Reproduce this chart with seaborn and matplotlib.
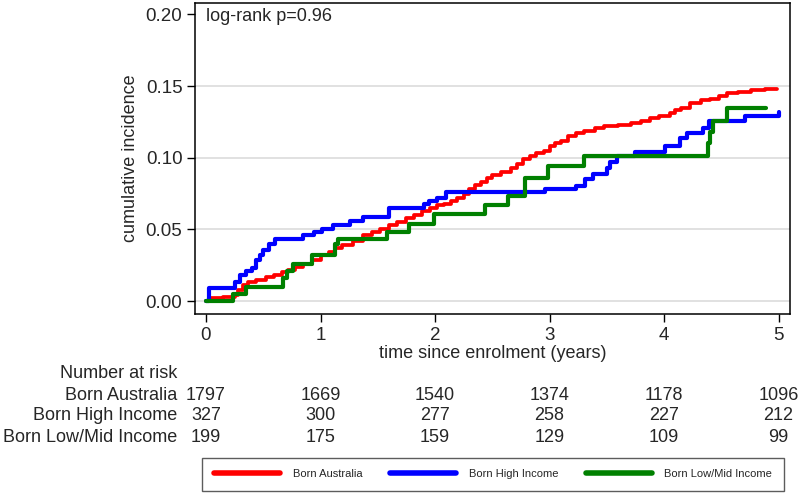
import matplotlib
matplotlib.use("Agg")
import matplotlib.pyplot as plt
import matplotlib.transforms as mtransforms
from matplotlib.lines import Line2D
import seaborn as sns
import pandas as pd

sns.set_theme(style="ticks")
plt.rcParams['font.family'] = ['Liberation Sans', 'DejaVu Sans']

# curves (time in years, cumulative incidence)
groups = ["Born Australia", "Born High Income", "Born Low/Mid Income"]
colors = ["#FF0000", "#0000FF", "#008000"]

aus_t = [0, 0.04, 0.15, 0.25, 0.28, 0.32, 0.37, 0.44, 0.52, 0.59, 0.66, 0.72, 0.78, 0.85,
         0.93, 1.00, 1.07, 1.13, 1.19, 1.28, 1.37, 1.45, 1.52, 1.60, 1.67, 1.75, 1.82, 1.89,
         1.96, 2.02, 2.08, 2.14, 2.19, 2.25, 2.30, 2.35, 2.40, 2.45, 2.50, 2.58, 2.66, 2.72,
         2.77, 2.83, 2.88, 2.95, 3.00, 3.05, 3.10, 3.16, 3.23, 3.30, 3.40, 3.48, 3.60, 3.71,
         3.80, 3.88, 3.96, 4.05, 4.10, 4.15, 4.23, 4.32, 4.40, 4.48, 4.55, 4.65, 4.76, 4.88,
         4.99]
aus_y = [0, 0.002, 0.003, 0.004, 0.008, 0.011, 0.013, 0.015, 0.017, 0.018, 0.020, 0.022,
         0.024, 0.026, 0.029, 0.032, 0.034, 0.037, 0.039, 0.042, 0.046, 0.048, 0.050, 0.053,
         0.055, 0.058, 0.060, 0.063, 0.065, 0.067, 0.068, 0.070, 0.072, 0.075, 0.078, 0.081,
         0.083, 0.086, 0.088, 0.090, 0.093, 0.096, 0.099, 0.101, 0.103, 0.105, 0.108, 0.110,
         0.112, 0.115, 0.117, 0.119, 0.121, 0.122, 0.123, 0.124, 0.126, 0.128, 0.129, 0.131,
         0.133, 0.135, 0.138, 0.140, 0.141, 0.143, 0.145, 0.146, 0.147, 0.148, 0.148]

high_t = [0, 0.03, 0.25, 0.30, 0.35, 0.40, 0.44, 0.47, 0.50, 0.55, 0.60, 0.85, 0.94, 1.01,
          1.11, 1.26, 1.37, 1.60, 1.90, 1.95, 2.02, 2.10, 2.96, 3.23, 3.31, 3.38, 3.50, 3.53,
          3.59, 3.75, 4.01, 4.14, 4.20, 4.34, 4.39, 4.71, 5.0]
high_y = [0, 0.009, 0.013, 0.018, 0.021, 0.023, 0.029, 0.032, 0.036, 0.040, 0.043, 0.046,
          0.048, 0.050, 0.053, 0.056, 0.059, 0.065, 0.068, 0.070, 0.072, 0.076, 0.078, 0.080,
          0.085, 0.089, 0.093, 0.097, 0.101, 0.104, 0.108, 0.114, 0.117, 0.121, 0.126, 0.129,
          0.132]

low_t = [0, 0.24, 0.35, 0.67, 0.71, 0.76, 0.93, 1.13, 1.15, 1.58, 1.77, 1.99, 2.44, 2.64,
         2.79, 2.99, 3.30, 4.38, 4.40, 4.43, 4.55, 4.89]
low_y = [0, 0.005, 0.010, 0.016, 0.021, 0.026, 0.032, 0.040, 0.043, 0.048, 0.054, 0.061,
         0.067, 0.073, 0.086, 0.094, 0.101, 0.110, 0.118, 0.126, 0.135, 0.135]

# number at risk table
risk_times = [0, 1, 2, 3, 4, 5]
risk_aus = [1797, 1669, 1540, 1374, 1178, 1096]
risk_high = [327, 300, 277, 258, 227, 212]
risk_low = [199, 175, 159, 129, 109, 99]

x_ticks = [0, 1, 2, 3, 4, 5]
y_ticks = [0.00, 0.05, 0.10, 0.15, 0.20]

df = pd.concat([
    pd.DataFrame({"time": aus_t, "cuminc": aus_y, "group": groups[0]}),
    pd.DataFrame({"time": high_t, "cuminc": high_y, "group": groups[1]}),
    pd.DataFrame({"time": low_t, "cuminc": low_y, "group": groups[2]}),
])

fig = plt.figure(figsize=(8, 4.93), dpi=100)
ax = fig.add_axes([195 / 800, 1 - 314 / 493, 595 / 800, 311 / 493])

ax.grid(axis='y', color='#dcdcdc', linewidth=1.2)
sns.lineplot(data=df, x="time", y="cuminc", hue="group", hue_order=groups,
             palette=colors, drawstyle="steps-post", linewidth=3.0,
             estimator=None, legend=False, ax=ax)
# red one is a touch thinner in the original
for ln in ax.get_lines():
    if ln.get_color() in ("#FF0000", (1.0, 0.0, 0.0)):
        ln.set_linewidth(2.7)

ax.set_xlim(-0.096, 5.10)
ax.set_ylim(-0.009, 0.208)
ax.set_xticks(x_ticks)
ax.set_yticks(y_ticks)
ax.set_yticklabels([f"{v:.2f}" for v in y_ticks])
ax.yaxis.get_gridlines()[-1].set_visible(False)
ax.tick_params(axis='both', labelsize=13.5, length=6, width=1, color='black', pad=3)
for s in ax.spines.values():
    s.set_color('black')
    s.set_linewidth(1.1)

ax.set_xlabel("time since enrolment (years)", fontsize=13, labelpad=1)
ax.set_ylabel("cumulative incidence", fontsize=13, labelpad=5)

ax.text(0.018, 0.955, "log-rank p=0.96", transform=ax.transAxes,
        ha='left', va='center', fontsize=13)

# number at risk block
trans = mtransforms.blended_transform_factory(ax.transData, fig.transFigure)
fig.text(177 / 800, 1 - 373 / 493, "Number at risk", ha='right', va='center', fontsize=13)
row_y = [395, 416, 437]
for name, counts, yy in zip(groups, [risk_aus, risk_high, risk_low], row_y):
    fig.text(177 / 800, 1 - yy / 493, name, ha='right', va='center', fontsize=13)
    for t, n in zip(risk_times, counts):
        ax.text(t, 1 - yy / 493, str(n), transform=trans, ha='center', va='center',
                fontsize=13, clip_on=False)

handles = [Line2D([0], [0], color=c, linewidth=4) for c in colors]
leg = fig.legend(handles, groups, loc='lower left', ncol=3, mode='expand',
                 bbox_to_anchor=(202 / 800, 2 / 493, 582 / 800, 35 / 493),
                 fontsize=8, handlelength=6, handletextpad=1.1, borderaxespad=0,
                 fancybox=False, frameon=True, borderpad=1.05)
leg.get_frame().set_edgecolor('#333333')
leg.get_frame().set_linewidth(1.0)

fig.savefig("out.png", dpi=100)
